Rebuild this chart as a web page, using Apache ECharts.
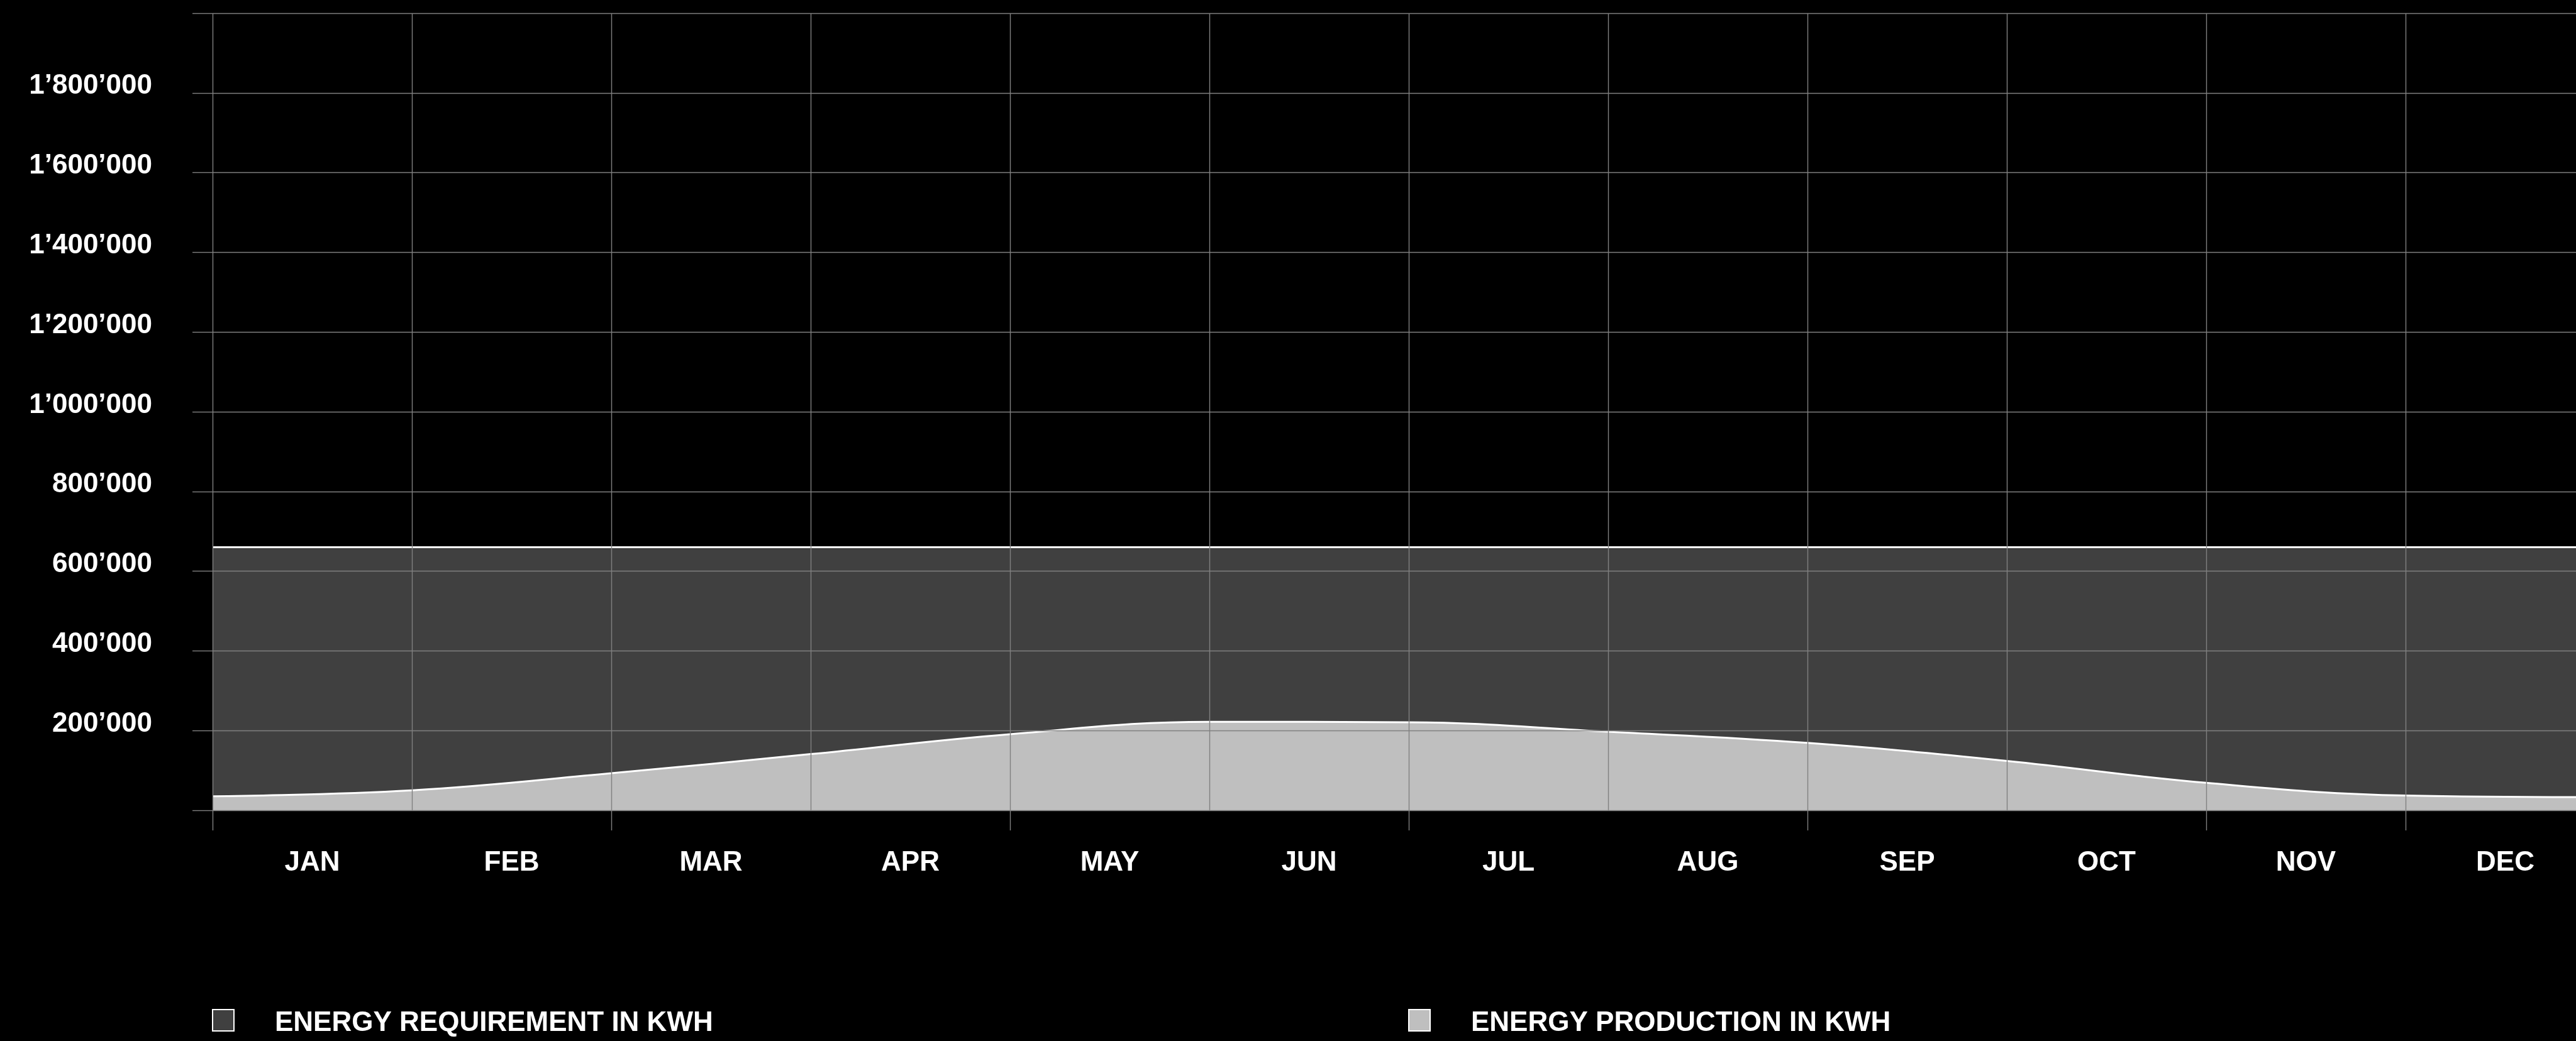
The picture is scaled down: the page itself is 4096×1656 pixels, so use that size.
<!DOCTYPE html>
<html>
<head>
<meta charset="utf-8">
<script src="https://cdn.jsdelivr.net/npm/echarts@6/dist/echarts.min.js"></script>
<style>
  html, body { margin: 0; padding: 0; background: #000; }
  #chart { width: 4096px; height: 1656px; }
</style>
</head>
<body>
<div id="chart"></div>
<script>
// Month labels, one per band on the x axis
const months = ['JAN', 'FEB', 'MAR', 'APR', 'MAY', 'JUN', 'JUL', 'AUG', 'SEP', 'OCT', 'NOV', 'DEC'];

// Values at the month boundaries (start of JAN ... end of DEC), in kWh
const requirementKwh = [660000, 660000, 660000, 660000, 660000, 660000, 660000,
                        660000, 660000, 660000, 660000, 660000, 660000];
const productionKwh = [35000, 50000, 93000, 141000, 191000, 222000, 221000,
                       197000, 169000, 124000, 69000, 37000, 33000];

// Y axis range and step
const yMin = 0;
const yMax = 2000000;
const yStep = 200000;

const seriesNames = ['ENERGY REQUIREMENT IN KWH', 'ENERGY PRODUCTION IN KWH'];

const FONT = '"Liberation Sans", Arial, Helvetica, sans-serif';
const GRID_COLOR = '#808080';
const GRID_WIDTH = 1.4;

function swissThousands(v) {
  return String(v).replace(/\B(?=(\d{3})+(?!\d))/g, '\u2019');
}

const toPoints = arr => arr.map((v, i) => [i, v]);

const labelText = {
  color: '#ffffff',
  fontSize: 44,
  fontWeight: 'bold',
  fontFamily: FONT
};

// Legend entry: square swatch with white border, bold caption to its right
function legendEntry(name, left) {
  return {
    data: [{ name: name, icon: 'rect' }],
    left: left,
    top: 1605,
    padding: 0,
    itemWidth: 34,
    itemHeight: 34,
    selectedMode: false,
    itemStyle: { borderColor: '#ffffff', borderWidth: 2 },
    formatter: '{t|{name}}',
    textStyle: Object.assign({
      padding: [0, 0, 0, 60],
      rich: { t: Object.assign({ padding: [10, 0, 0, 0] }, labelText) }
    }, labelText)
  };
}

const chart = echarts.init(document.getElementById('chart'), null, { renderer: 'canvas' });

const option = {
  backgroundColor: '#000000',
  animation: false,
  grid: {
    left: 338,
    top: 21,
    right: -46,
    bottom: 367,
    containLabel: false,
    outerBoundsMode: 'none'
  },
  xAxis: [
    {
      type: 'category',
      data: months,
      boundaryGap: true,
      position: 'bottom',
      z: 3,
      axisLine: { show: false },
      axisTick: { show: true, interval: 1, length: 32, lineStyle: { color: GRID_COLOR, width: GRID_WIDTH } },
      axisLabel: Object.assign({ interval: 0, margin: 84, verticalAlign: 'middle' }, labelText),
      splitLine: { show: true, interval: 0, lineStyle: { color: GRID_COLOR, width: GRID_WIDTH } }
    },
    {
      type: 'value',
      min: 0,
      max: months.length,
      show: false
    }
  ],
  yAxis: {
    type: 'value',
    min: yMin,
    max: yMax,
    interval: yStep,
    z: 3,
    axisLine: { show: false },
    axisTick: { show: true, length: 32, lineStyle: { color: GRID_COLOR, width: GRID_WIDTH } },
    axisLabel: Object.assign({
      margin: 96,
      verticalAlign: 'bottom',
      lineHeight: 21,
      formatter: v => (v <= yMin || v >= yMax) ? '' : swissThousands(v)
    }, labelText),
    splitLine: { show: true, lineStyle: { color: GRID_COLOR, width: GRID_WIDTH } }
  },
  legend: [
    legendEntry(seriesNames[0], 337),
    legendEntry(seriesNames[1], 2239)
  ],
  series: [
    {
      name: seriesNames[0],
      type: 'line',
      xAxisIndex: 1,
      data: toPoints(requirementKwh),
      symbol: 'none',
      z: 1,
      itemStyle: { color: '#404040' },
      lineStyle: { color: '#ffffff', width: 3 },
      areaStyle: { color: '#404040', opacity: 1 }
    },
    {
      name: seriesNames[1],
      type: 'line',
      xAxisIndex: 1,
      data: toPoints(productionKwh),
      symbol: 'none',
      smooth: 0.4,
      z: 2,
      itemStyle: { color: '#bfbfbf' },
      lineStyle: { color: '#ffffff', width: 3 },
      areaStyle: { color: '#bfbfbf', opacity: 1 }
    }
  ]
};

chart.setOption(option);
</script>
</body>
</html>
